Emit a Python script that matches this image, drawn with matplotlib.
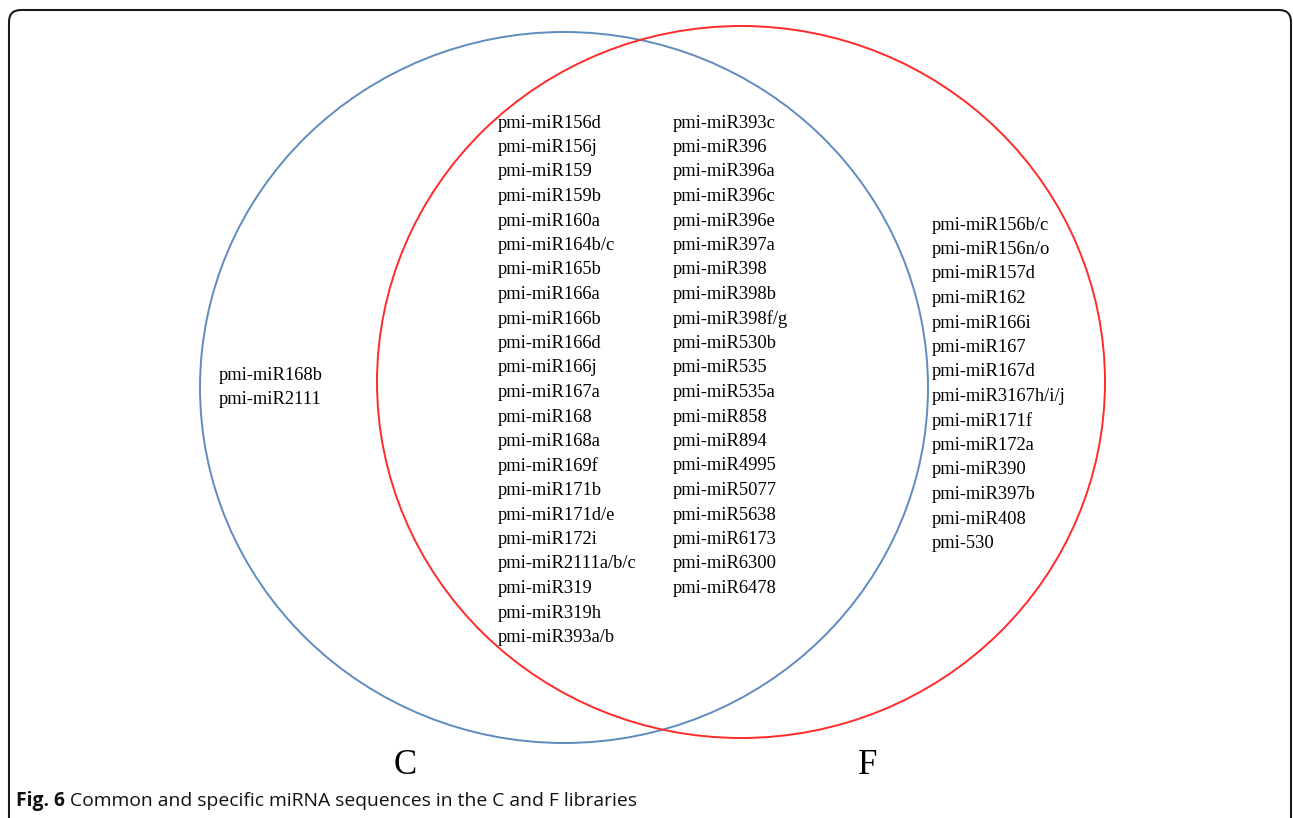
import matplotlib
matplotlib.use("Agg")
import matplotlib.pyplot as plt
from matplotlib.patches import Ellipse, FancyBboxPatch

# ---- data ----
set_names = ["C", "F"]
c_only = ["pmi-miR168b", "pmi-miR2111"]
common_col1 = ["pmi-miR156d", "pmi-miR156j", "pmi-miR159", "pmi-miR159b", "pmi-miR160a",
               "pmi-miR164b/c", "pmi-miR165b", "pmi-miR166a", "pmi-miR166b", "pmi-miR166d",
               "pmi-miR166j", "pmi-miR167a", "pmi-miR168", "pmi-miR168a", "pmi-miR169f",
               "pmi-miR171b", "pmi-miR171d/e", "pmi-miR172i", "pmi-miR2111a/b/c", "pmi-miR319",
               "pmi-miR319h", "pmi-miR393a/b"]
common_col2 = ["pmi-miR393c", "pmi-miR396", "pmi-miR396a", "pmi-miR396c", "pmi-miR396e",
               "pmi-miR397a", "pmi-miR398", "pmi-miR398b", "pmi-miR398f/g", "pmi-miR530b",
               "pmi-miR535", "pmi-miR535a", "pmi-miR858", "pmi-miR894", "pmi-miR4995",
               "pmi-miR5077", "pmi-miR5638", "pmi-miR6173", "pmi-miR6300", "pmi-miR6478"]
f_only = ["pmi-miR156b/c", "pmi-miR156n/o", "pmi-miR157d", "pmi-miR162", "pmi-miR166i",
          "pmi-miR167", "pmi-miR167d", "pmi-miR3167h/i/j", "pmi-miR171f", "pmi-miR172a",
          "pmi-miR390", "pmi-miR397b", "pmi-miR408", "pmi-530"]
caption_bold = "Fig. 6"
caption_text = " Common and specific miRNA sequences in the C and F libraries"

# ---- figure ----
W, H = 1293, 818
fig = plt.figure(figsize=(W / 100, H / 100), dpi=100)
ax = fig.add_axes([0, 0, 1, 1])
ax.set_xlim(0, W)
ax.set_ylim(H, 0)
ax.axis("off")

# rounded frame (extends beyond bottom)
frame = FancyBboxPatch((9, 10), 1282, 860, boxstyle="round,pad=0,rounding_size=12",
                       fill=False, edgecolor="#1a1a1a", linewidth=1.5, zorder=1)
ax.add_patch(frame)

blue = "#5f8bbf"
red = "#ff2b2b"
ax.add_patch(Ellipse((564, 387.5), 2 * 364, 2 * 355.5, fill=False, edgecolor=blue, linewidth=1.4, zorder=2))
ax.add_patch(Ellipse((741, 382), 2 * 364, 2 * 356, fill=False, edgecolor=red, linewidth=1.4, zorder=2))

serif = ["Liberation Serif", "DejaVu Serif"]
fs = 13.3
step = 24.5

def column(items, x, y0):
    for i, s in enumerate(items):
        ax.text(x, y0 + i * step, s, fontsize=fs, family=serif, ha="left", va="center",
                color="#000000", zorder=3)

column(c_only, 219, 375)
column(common_col1, 498, 123)
column(common_col2, 673, 123)
column(f_only, 932, 225)

ax.text(405, 765, set_names[0], fontsize=25, family=serif, ha="center", va="center", color="#000000")
ax.text(868, 765, set_names[1], fontsize=25, family=serif, ha="center", va="center", color="#000000")

sans = ["Open Sans", "DejaVu Sans"]
cfs = 13.9
t = ax.text(16, 801, caption_bold, fontsize=cfs, family=sans, fontweight="bold",
            ha="left", va="center", color="#111111")
ax.annotate(caption_text, xy=(1, 0.5), xycoords=t, fontsize=cfs, family=sans,
            ha="left", va="center", color="#111111")

fig.savefig("out.png", dpi=100)
